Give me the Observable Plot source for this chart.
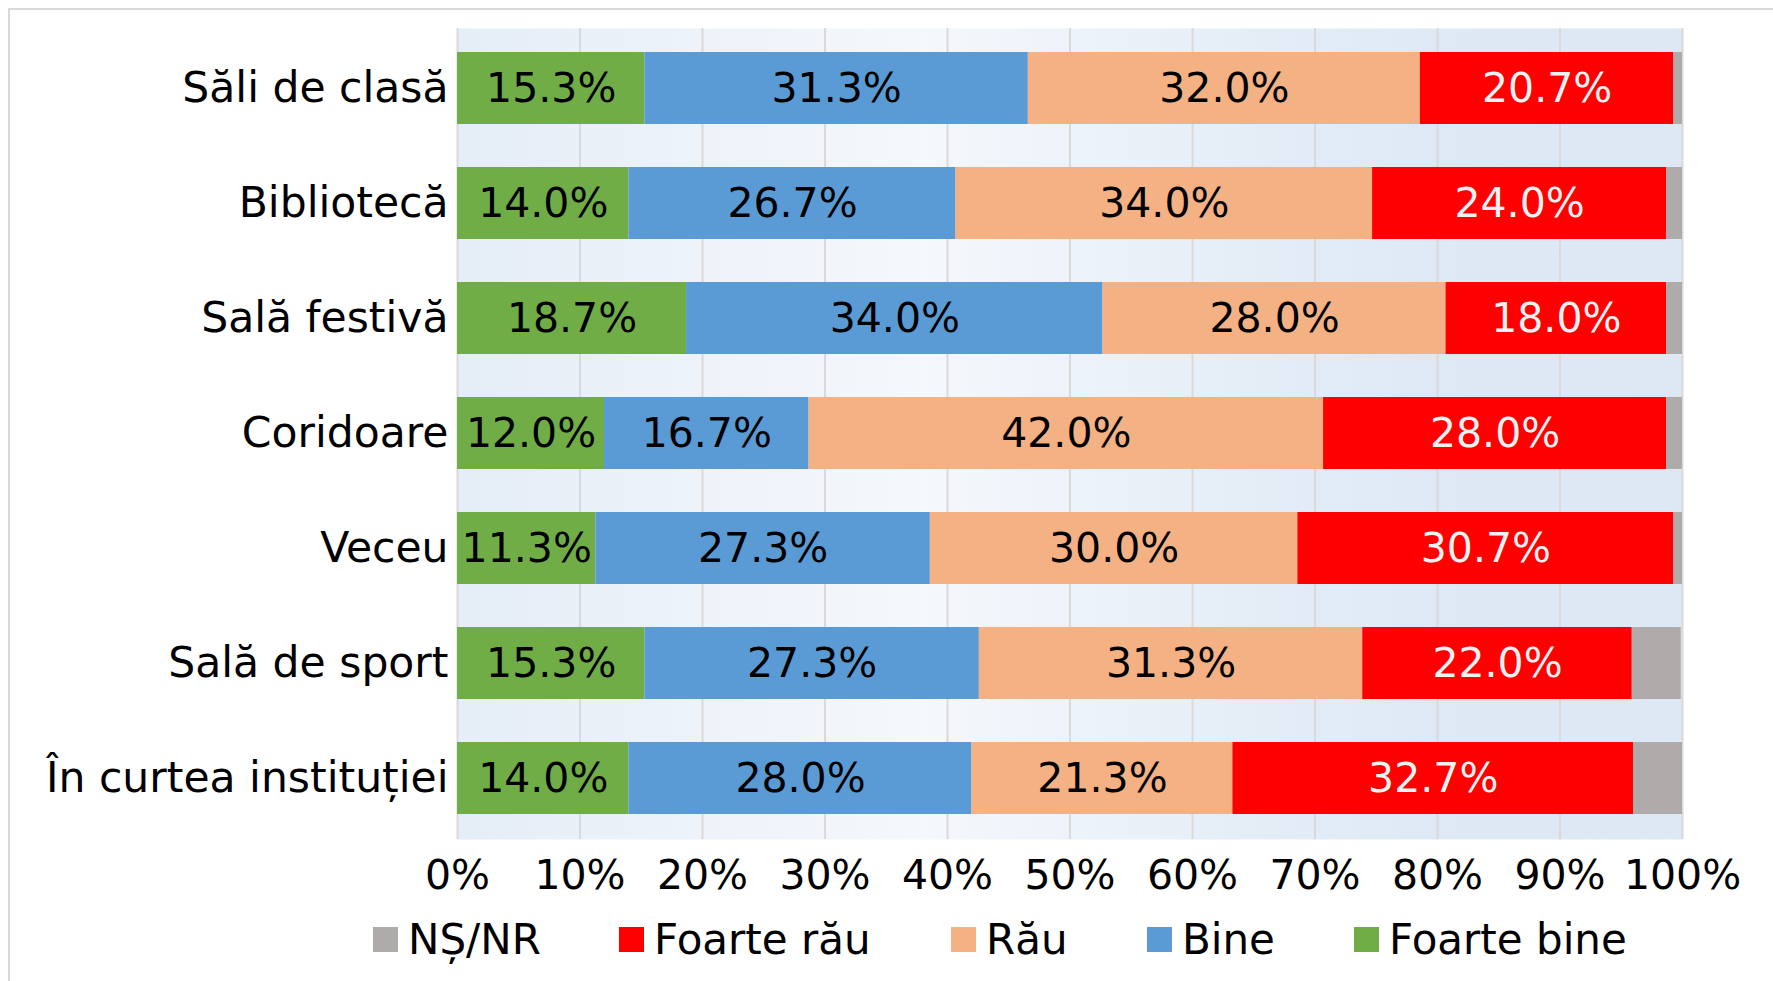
<!DOCTYPE html>
<html>
<head>
<meta charset="utf-8">
<script src="https://cdn.jsdelivr.net/npm/d3@7"></script>
<script src="https://cdn.jsdelivr.net/npm/@observablehq/plot@0.6"></script>
<style>
  html, body { margin: 0; padding: 0; background: #fff; }
  body { width: 1773px; height: 981px; position: relative; overflow: hidden; font-family: "DejaVu Sans", sans-serif; }
  #border { position: absolute; left: 8px; top: 8px; width: 1820px; height: 1020px; border: 2px solid #D9D9D9; box-sizing: border-box; }
  #chart { position: absolute; left: 0; top: 0; }
  #legend { position: absolute; left: 0; top: 916px; width: 1773px; height: 50px; font-size: 42px; color: #000; }
  .item { position: absolute; top: 0; height: 46px; display: flex; align-items: center; white-space: nowrap; }
  .sw { width: 25px; height: 25px; margin-right: 10px; }
</style>
</head>
<body>
<div id="border"></div>
<div id="chart"></div>
<div id="legend"></div>
<script>
const categories = ["Săli de clasă", "Bibliotecă", "Sală festivă", "Coridoare", "Veceu", "Sală de sport", "În curtea instituției"];
const seriesNames = ["Foarte bine", "Bine", "Rău", "Foarte rău", "NȘ/NR"];
const seriesColors = ["#70AD47", "#5B9BD5", "#F4B183", "#FF0000", "#AFABAB"];
const foarteBine = [15.3, 14.0, 18.7, 12.0, 11.3, 15.3, 14.0];
const bine       = [31.3, 26.7, 34.0, 16.7, 27.3, 27.3, 28.0];
const rau        = [32.0, 34.0, 28.0, 42.0, 30.0, 31.3, 21.3];
const foarteRau  = [20.7, 24.0, 18.0, 28.0, 30.7, 22.0, 32.7];
const nsnr       = [0.7, 1.3, 1.3, 1.3, 0.7, 4.0, 4.0];
const xTicks = [0, 10, 20, 30, 40, 50, 60, 70, 80, 90, 100];
const legendOrder = ["NȘ/NR", "Foarte rău", "Rău", "Bine", "Foarte bine"];
const legendLeft = [373, 619, 951, 1147, 1354];

const seriesValues = [foarteBine, bine, rau, foarteRau, nsnr];
const rows = [];
categories.forEach((c, i) => {
  seriesNames.forEach((s, j) => rows.push({cat: c, series: s, value: seriesValues[j][i]}));
});
const fmt = d => d.value.toFixed(1) + "%";
const darkText = d => (d.series !== "Foarte rău" && d.series !== "NȘ/NR") ? fmt(d) : null;
const lightText = d => d.series === "Foarte rău" ? fmt(d) : null;

const chart = Plot.plot({
  width: 1773,
  height: 900,
  marginLeft: 457,
  marginRight: 91,
  marginTop: 28,
  marginBottom: 61,
  style: {fontFamily: "DejaVu Sans", fontSize: "41px", color: "#000", background: "transparent", overflow: "visible"},
  x: {domain: [0, 100], ticks: xTicks, tickFormat: d => d + "%", tickSize: 0, tickPadding: 20, label: null},
  y: {domain: categories, paddingInner: 0.37, paddingOuter: 0.185, tickSize: 0, tickPadding: 9, label: null},
  color: {domain: seriesNames, range: seriesColors},
  marks: [
    Plot.frame({fill: "#E8EFF8", stroke: null}),
    Plot.ruleX(xTicks, {stroke: "#D9D9D9", strokeWidth: 2}),
    Plot.barX(rows, Plot.stackX({x: "value", y: "cat", fill: "series"})),
    Plot.text(rows, Plot.stackX({x: "value", y: "cat", text: darkText, fill: "#000", fontSize: 41})),
    Plot.text(rows, Plot.stackX({x: "value", y: "cat", text: lightText, fill: "#F2F2F2", fontSize: 41}))
  ]
});
document.getElementById("chart").appendChild(chart);

const svg = d3.select(chart);
// larger category labels
svg.selectAll('[aria-label^="y-axis"] text').attr("font-size", "42.5px");
// gradient background
const defs = svg.insert("defs", ":first-child");
const g = defs.append("linearGradient").attr("id", "bg").attr("x1", "0").attr("x2", "1").attr("y1", "0").attr("y2", "0");
[[0, "#E5EDF7"], [0.38, "#F5F8FC"], [0.62, "#E6EEF7"], [0.8, "#DEE9F5"], [1, "#DDE8F4"]].forEach(([o, c]) =>
  g.append("stop").attr("offset", o).attr("stop-color", c));
svg.selectAll('[aria-label="frame"]').each(function() {
  if (this.tagName.toLowerCase() === "rect") d3.select(this).attr("fill", "url(#bg)");
  else d3.select(this).selectAll("rect").attr("fill", "url(#bg)");
});

// legend
const legend = d3.select("#legend");
legendOrder.forEach((name, i) => {
  const it = legend.append("div").attr("class", "item").style("left", legendLeft[i] + "px");
  it.append("div").attr("class", "sw").style("background", seriesColors[seriesNames.indexOf(name)]);
  it.append("span").text(name);
});
</script>
</body>
</html>
